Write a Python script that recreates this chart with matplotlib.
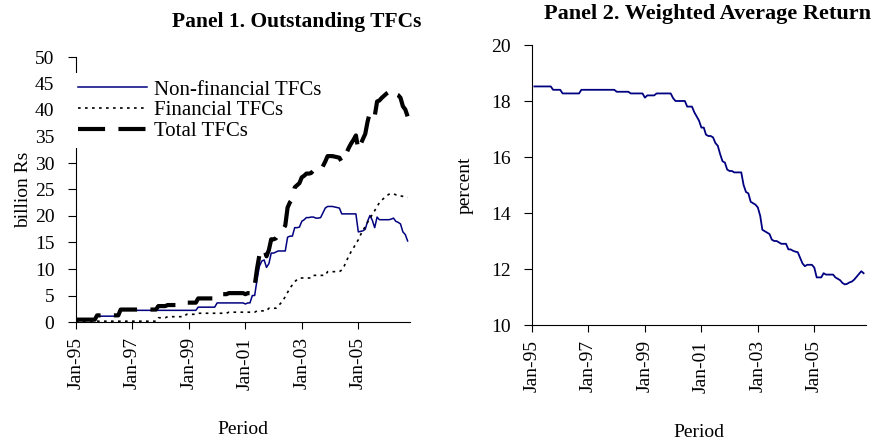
import pandas as pd
import matplotlib
matplotlib.use("Agg")
import matplotlib.pyplot as plt
import matplotlib.dates as mdates

plt.rcParams['font.family'] = ['Liberation Serif', 'DejaVu Serif']
plt.rcParams['font.size'] = 14

# Monthly data, Jan-95 to Oct-06
meses = pd.date_range('1995-01-01', periods=142, freq='MS')

# Panel 1: outstanding TFCs (billion Rs)
no_financieros = ([0.3] * 9 + [1.1] * 10 + [2.2] * 33 + [2.8] * 8 + [3.6] * 12
                  + [3.4] + [3.6] * 2 + [5.0] * 2
                  + [8.0, 10.5, 11.5, 11.7, 10.3, 11.0, 13.0, 13.0, 13.2, 13.4,
                     13.4, 13.4, 13.4, 16.0, 16.2, 16.2, 17.8, 17.8, 17.9, 19.0,
                     19.3, 19.7, 19.7, 19.8, 19.8, 19.6, 19.6, 19.7, 20.6, 21.5,
                     21.8, 21.8, 21.8, 21.7, 21.6, 21.5, 20.4]
                  + [20.4] * 6
                  + [17.0, 17.1, 17.2, 17.5, 19.0, 20.1, 19.2, 17.8, 19.8, 19.3,
                     19.3, 19.3, 19.3, 19.3, 19.4, 19.6, 19.0, 18.8, 18.5, 17.0,
                     16.5, 15.3])

financieros = ([0.15] * 35 + [0.8] * 4 + [1.0] * 8 + [1.45] * 5 + [1.65] * 13
               + [1.85] * 12 + [2.1] * 5 + [2.6] * 4
               + [3.0, 3.5, 4.0, 4.8, 5.6, 6.4, 7.0, 7.6, 8.0]
               + [8.3] * 6 + [8.8] * 6 + [9.5] * 6
               + [9.8, 10.5, 11.5, 12.5, 13.3, 14.0, 14.8, 15.5, 16.5, 17.3,
                  18.0, 18.8, 19.5, 20.3, 21.0, 21.8, 22.5, 23.0, 23.4, 23.8,
                  24.1, 24.2, 24.2, 24.0, 24.0, 23.8, 23.7, 23.6, 23.5])

total = [a + b for a, b in zip(no_financieros, financieros)]

# Panel 2: weighted average return (percent), Feb-95 onwards
rendimiento = ([18.52] * 8 + [18.40] * 4 + [18.27] * 8 + [18.40] * 15 + [18.33] * 6
               + [18.27] * 6 + [18.12] + [18.20] * 4 + [18.27] * 7 + [18.10]
               + [18.00] * 5 + [17.80] * 3
               + [17.60, 17.45, 17.30, 17.05, 17.05, 16.80, 16.75, 16.75, 16.70, 16.50,
                  16.40, 16.10, 15.85, 15.80, 15.55, 15.50, 15.50, 15.45, 15.45, 15.45,
                  15.45, 15.00, 14.75, 14.70, 14.40, 14.35, 14.30, 14.20, 13.90, 13.40,
                  13.35, 13.30, 13.25, 13.05, 13.00, 13.00, 12.95, 12.90, 12.90, 12.90,
                  12.70, 12.70, 12.65, 12.62, 12.60, 12.40, 12.20, 12.10, 12.15, 12.15,
                  12.15, 12.05, 11.70, 11.70, 11.70, 11.85, 11.80, 11.80, 11.80, 11.80,
                  11.70, 11.65, 11.60, 11.50, 11.45, 11.47, 11.52, 11.55, 11.62, 11.72,
                  11.82, 11.92, 11.85])

azul = '#000080'
fin_eje = pd.Timestamp('2006-11-01')
ticks_x = pd.date_range('1995-01-01', '2005-01-01', freq='24MS')

fig = plt.figure(figsize=(8.81, 4.4), dpi=100)

def preparar_eje(ax):
    for lado in ['top', 'right']:
        ax.spines[lado].set_visible(False)
    ax.set_xlim(meses[0], fin_eje)
    ax.set_xticks(ticks_x)
    ax.xaxis.set_major_formatter(mdates.DateFormatter('%b-%y'))
    ax.tick_params(axis='x', rotation=90, direction='out', length=5, pad=6)
    ax.tick_params(axis='y', direction='out', length=5.5, pad=10)
    ax.set_xlabel('Period', labelpad=23)

# Panel 1
ax1 = fig.add_axes([76 / 881, 118 / 440, 334 / 881, 265 / 440])
preparar_eje(ax1)
ax1.plot(meses, no_financieros, color=azul, lw=1.1, label='Non-financial TFCs')
ax1.plot(meses, financieros, color='black', lw=1.2, linestyle=(0, (1.6, 2.6)),
         label='Financial TFCs')
ax1.plot(meses, total, color='black', lw=3, linestyle=(0, (6.5, 3.2)),
         label='Total TFCs')
ax1.set_ylim(0, 50)
ax1.set_yticks(range(0, 51, 5))
ax1.set_ylabel('billion Rs', labelpad=2)
leg = ax1.legend(loc='upper left', bbox_to_anchor=(-0.015, 0.94), borderaxespad=0,
                 borderpad=0.35, handlelength=3.3, handletextpad=0.33,
                 labelspacing=0.05, frameon=True, fancybox=False, fontsize=15)
leg.get_frame().set_facecolor('white')
leg.get_frame().set_edgecolor('none')
leg.get_frame().set_alpha(1)
# tick marks hidden behind the legend in the original
for valor, tick in zip(range(0, 51, 5), ax1.yaxis.get_major_ticks()):
    if valor in (35, 40, 45):
        tick.tick1line.set_visible(False)

# Panel 2
ax2 = fig.add_axes([532 / 881, 115 / 440, 334 / 881, 280 / 440])
preparar_eje(ax2)
ax2.plot(meses[1:], rendimiento, color=azul, lw=1.3)
ax2.set_ylim(10, 20)
ax2.set_yticks(range(10, 21, 2))
ax2.set_ylabel('percent', labelpad=12)

fig.text(297 / 881, 1 - 22 / 440, 'Panel 1. Outstanding TFCs', ha='center',
         va='center', fontweight='bold', fontsize=15.5)
fig.text(708 / 881, 1 - 14 / 440, 'Panel 2. Weighted Average Return', ha='center',
         va='center', fontweight='bold', fontsize=16)

plt.savefig('out.png', dpi=100)
